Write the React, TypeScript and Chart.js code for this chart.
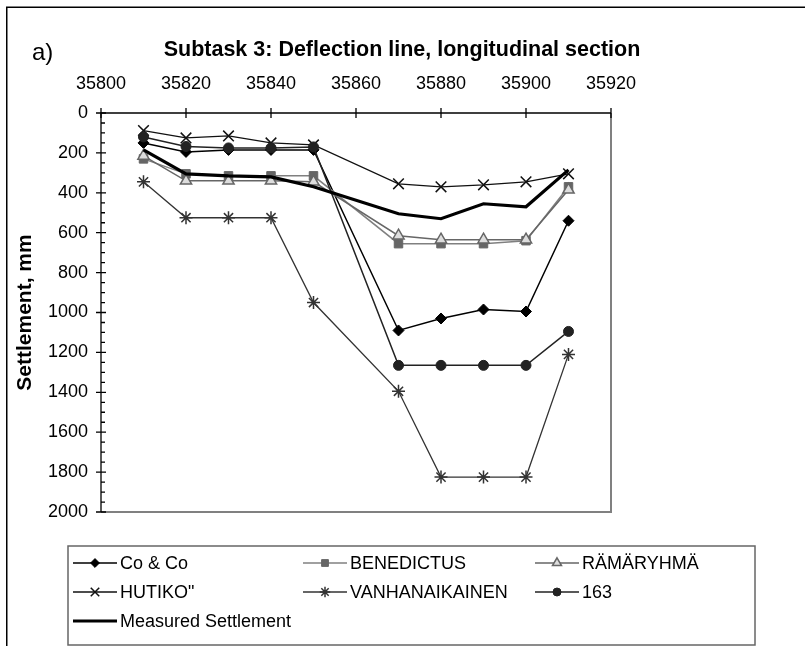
import React, { useEffect, useRef } from 'react';
import { Chart, registerables } from 'chart.js';
import { drawPoint } from 'chart.js/helpers';

Chart.register(...registerables);

// ---- data ----
const stations = [35810, 35820, 35830, 35840, 35850, 35870, 35880, 35890, 35900, 35910];
const coAndCo = [150, 195, 185, 185, 185, 1090, 1030, 985, 995, 540];
const benedictus = [230, 305, 315, 315, 315, 655, 655, 655, 640, 370];
const ramaryhma = [215, 340, 340, 340, 345, 615, 635, 635, 635, 385];
const hutiko = [88, 125, 115, 150, 160, 355, 370, 360, 345, 305];
const vanhanaikainen = [345, 525, 525, 525, 950, 1395, 1825, 1825, 1825, 1210];
const s163 = [120, 168, 175, 175, 170, 1265, 1265, 1265, 1265, 1095];
const measured = [185, 305, 315, 320, 370, 505, 530, 455, 470, 285];

const seriesLabels = ['Co & Co', 'BENEDICTUS', 'RÄMÄRYHMÄ', 'HUTIKO"', 'VANHANAIKAINEN', '163', 'Measured Settlement'];
const xMin = 35800;
const xMax = 35920;
const xStep = 20;
const yMin = 0;
const yMax = 2000;
const yStep = 200;
const yMinorStep = 50;

const chartTitle = 'Subtask 3: Deflection line, longitudinal section';
const panelLabel = 'a)';
const yTitle = 'Settlement, mm';

const FONT = "'Liberation Sans', Arial, sans-serif";

type Style = {
  color: string;
  width: number;
  pointStyle: any;
  radius: number;
  bg: string;
  border: string;
  pbw: number;
};

const styles: Style[] = [
  { color: '#000000', width: 1.5, pointStyle: 'rectRot', radius: 5.5, bg: '#000000', border: '#000000', pbw: 1 },
  { color: '#808080', width: 1.5, pointStyle: 'rect', radius: 6, bg: '#666666', border: '#666666', pbw: 1 },
  { color: '#666666', width: 1.5, pointStyle: 'triangle', radius: 6.5, bg: '#dddddd', border: '#666666', pbw: 1.5 },
  { color: '#111111', width: 1.3, pointStyle: 'crossRot', radius: 7.5, bg: '#111111', border: '#111111', pbw: 1.5 },
  { color: '#333333', width: 1.3, pointStyle: 'star', radius: 6.5, bg: '#333333', border: '#333333', pbw: 1.5 },
  { color: '#222222', width: 1.5, pointStyle: 'circle', radius: 5, bg: '#222222', border: '#222222', pbw: 1 },
  { color: '#000000', width: 3.2, pointStyle: false, radius: 0, bg: '#000000', border: '#000000', pbw: 0 },
];

const seriesValues = [coAndCo, benedictus, ramaryhma, hutiko, vanhanaikainen, s163, measured];

const legendCols = [73, 303, 535];
const legendRows = [563, 592, 621];

const decorPlugin = {
  id: 'decor',
  beforeDraw(chart: any) {
    const { ctx, width, height } = chart;
    ctx.save();
    ctx.fillStyle = '#ffffff';
    ctx.fillRect(0, 0, width, height);
    ctx.restore();
  },
  afterDraw(chart: any) {
    const { ctx, chartArea: a } = chart;
    const xs = chart.scales.x;
    const ys = chart.scales.y;
    ctx.save();
    // outer frame (only top and left visible)
    ctx.strokeStyle = '#000000';
    ctx.lineWidth = 1.5;
    ctx.beginPath();
    ctx.moveTo(6.75, 700);
    ctx.lineTo(6.75, 7.25);
    ctx.lineTo(900, 7.25);
    ctx.stroke();

    // plot border right/bottom
    ctx.strokeStyle = '#808080';
    ctx.lineWidth = 2;
    ctx.beginPath();
    ctx.moveTo(a.left, a.bottom);
    ctx.lineTo(a.right, a.bottom);
    ctx.lineTo(a.right, a.top);
    ctx.stroke();

    // axes
    ctx.strokeStyle = '#000000';
    ctx.lineWidth = 1.3;
    ctx.beginPath();
    ctx.moveTo(a.left, a.bottom);
    ctx.lineTo(a.left, a.top);
    ctx.lineTo(a.right, a.top);
    ctx.stroke();

    // x ticks (crossing)
    ctx.beginPath();
    for (let v = xMin; v <= xMax; v += xStep) {
      const px = xs.getPixelForValue(v);
      ctx.moveTo(px, a.top - 5);
      ctx.lineTo(px, a.top + 5);
    }
    // y ticks
    for (let v = yMin; v <= yMax; v += yMinorStep) {
      const py = ys.getPixelForValue(v);
      if (v % yStep === 0) {
        ctx.moveTo(a.left - 5, py);
        ctx.lineTo(a.left + 5, py);
      } else {
        ctx.moveTo(a.left, py);
        ctx.lineTo(a.left + 4, py);
      }
    }
    ctx.stroke();

    // title + panel label
    ctx.fillStyle = '#000000';
    ctx.textAlign = 'center';
    ctx.textBaseline = 'alphabetic';
    ctx.font = `bold 21.5px ${FONT}`;
    ctx.fillText(chartTitle, 402, 56);
    ctx.textAlign = 'left';
    ctx.font = `24px ${FONT}`;
    ctx.fillText(panelLabel, 32, 60);

    // legend box
    ctx.strokeStyle = '#666666';
    ctx.lineWidth = 1.5;
    ctx.strokeRect(68, 546, 687, 99);

    ctx.font = `18px ${FONT}`;
    ctx.textBaseline = 'middle';
    seriesLabels.forEach((label, i) => {
      const s = styles[i];
      const col = i % 3;
      const row = Math.floor(i / 3);
      const x0 = legendCols[col];
      const y0 = legendRows[row];
      ctx.strokeStyle = s.color;
      ctx.lineWidth = s.width;
      ctx.beginPath();
      ctx.moveTo(x0, y0);
      ctx.lineTo(x0 + 44, y0);
      ctx.stroke();
      if (s.pointStyle) {
        ctx.fillStyle = s.bg;
        ctx.strokeStyle = s.border;
        ctx.lineWidth = s.pbw;
        drawPoint(ctx, { pointStyle: s.pointStyle, radius: s.radius * 0.8, rotation: 0, borderWidth: s.pbw } as any, x0 + 22, y0);
      }
      ctx.fillStyle = '#000000';
      ctx.fillText(label, x0 + 47, y0 + 1);
    });
    ctx.restore();
  },
};

export default function App() {
  const ref = useRef<HTMLCanvasElement | null>(null);
  useEffect(() => {
    if (!ref.current) return;
    const datasets = seriesLabels.map((label, i) => {
      const s = styles[i];
      return {
        label,
        data: stations.map((x, j) => ({ x, y: seriesValues[i][j] })),
        borderColor: s.color,
        borderWidth: s.width,
        pointStyle: s.pointStyle,
        pointRadius: s.radius,
        pointBackgroundColor: s.bg,
        pointBorderColor: s.border,
        pointBorderWidth: s.pbw,
        tension: 0,
        fill: false,
        order: seriesLabels.length - i,
      };
    });
    const chart = new Chart(ref.current, {
      type: 'line',
      data: { datasets },
      options: {
        responsive: false,
        animation: false,
        devicePixelRatio: 1,
        layout: { padding: { left: 13, right: 194, top: 53, bottom: 134 } },
        plugins: {
          legend: { display: false },
          title: { display: false },
          tooltip: { enabled: false },
        },
        scales: {
          x: {
            type: 'linear',
            position: 'top',
            min: xMin,
            max: xMax,
            ticks: {
              stepSize: xStep,
              color: '#000000',
              font: { size: 18, family: FONT },
              padding: 18,
              maxRotation: 0,
              autoSkip: false,
              callback: (v: any) => String(v),
            },
            grid: { display: false, drawTicks: false },
            border: { display: false },
            afterFit: (s: any) => {
              s.height = 60;
            },
          },
          y: {
            type: 'linear',
            reverse: true,
            min: yMin,
            max: yMax,
            ticks: {
              stepSize: yStep,
              color: '#000000',
              font: { size: 18, family: FONT },
              padding: 13,
              autoSkip: false,
              callback: (v: any) => String(v),
            },
            grid: { display: false, drawTicks: false },
            border: { display: false },
            title: {
              display: true,
              text: yTitle,
              color: '#000000',
              font: { size: 21, weight: 'bold', family: FONT },
              padding: 0,
            },
            afterFit: (s: any) => {
              s.width = 88;
            },
          },
        },
      } as any,
      plugins: [decorPlugin],
    });
    return () => chart.destroy();
  }, []);
  return (
    <div style={{ position: 'fixed', left: 0, top: 0, width: 805, height: 646, background: '#fff' }}>
      <canvas ref={ref} width={805} height={646} style={{ display: 'block', width: 805, height: 646 }} />
    </div>
  );
}
